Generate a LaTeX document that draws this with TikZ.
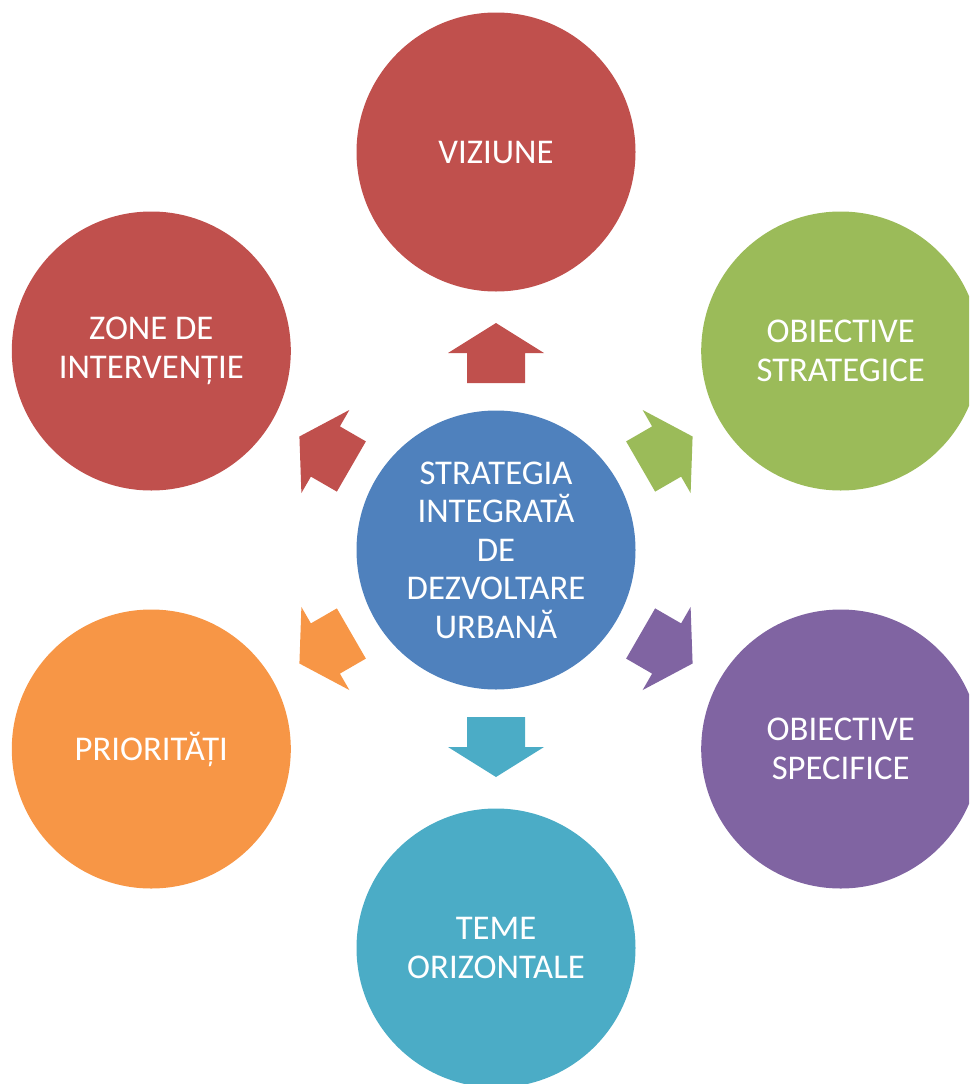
\documentclass[tikz,border=0pt]{standalone}
\usepackage{fontspec}
\setmainfont{Carlito}
\definecolor{cred}{HTML}{C0504D}
\definecolor{cgreen}{HTML}{9BBB59}
\definecolor{cpurple}{HTML}{8064A2}
\definecolor{caqua}{HTML}{4BACC6}
\definecolor{corange}{HTML}{F79646}
\definecolor{cblue}{HTML}{4F81BD}
\tikzset{
  bubble/.style={circle, minimum size=279pt, inner sep=0pt, text=white, align=center,
    font=\fontsize{34.7}{38.5}\selectfont},
}
\newcommand{\blockarr}[2]{%
  \begin{scope}[shift={(c.center)}, rotate=#1]
    \fill[#2] (167,-29) -- (197,-29) -- (197,-48) -- (227,0) -- (197,48) -- (197,29) -- (167,29) -- cycle;
  \end{scope}}
\begin{document}
\begin{tikzpicture}[x=1pt,y=-1pt]
\useasboundingbox (0,0) rectangle (969,1084);
\clip (0,0) rectangle (969,1084);
\node[bubble, fill=cblue] (c) at (496,550) {STRATEGIA\\INTEGRATĂ\\DE\\DEZVOLTARE\\URBANĂ};
\node[bubble, fill=cred] (viz) at (496,152) {VIZIUNE};
\node[bubble, fill=cgreen] (obs) at (840.7,351) {OBIECTIVE\\STRATEGICE};
\node[bubble, fill=cpurple] (obsp) at (840.7,749) {OBIECTIVE\\SPECIFICE};
\node[bubble, fill=caqua] (tem) at (496,948) {TEME\\ORIZONTALE};
\node[bubble, fill=corange] (pri) at (151.3,749) {PRIORITĂȚI};
\node[bubble, fill=cred] (zon) at (151.3,351) {ZONE DE\\INTERVENȚIE};
\blockarr{90}{cred}
\blockarr{30}{cgreen}
\blockarr{-30}{cpurple}
\blockarr{-90}{caqua}
\blockarr{-150}{corange}
\blockarr{150}{cred}
\end{tikzpicture}
\end{document}
